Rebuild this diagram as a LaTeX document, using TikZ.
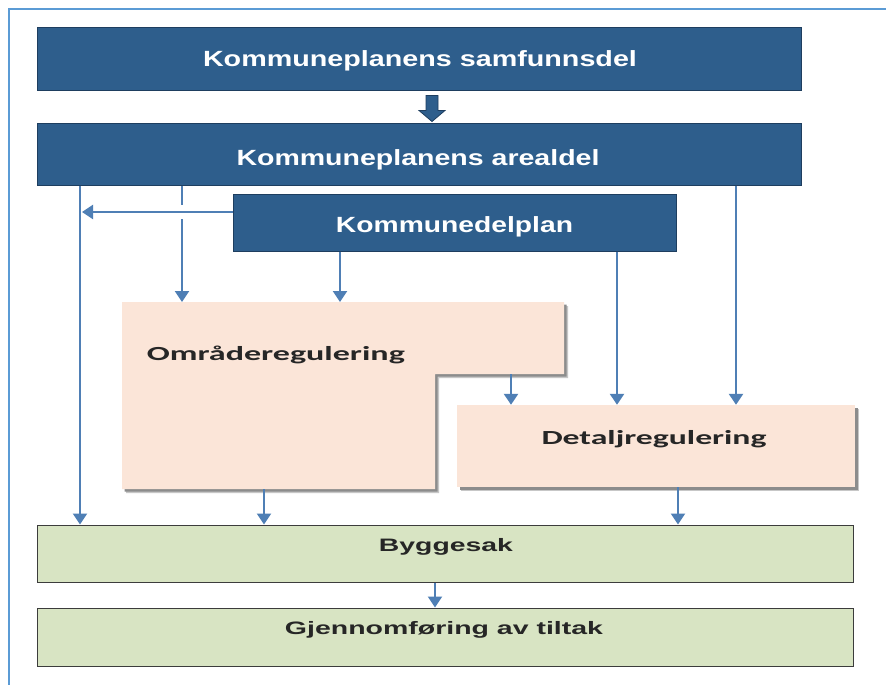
\documentclass[tikz,border=0pt]{standalone}
\usepackage{graphicx}
\usepackage{fontspec}
\setmainfont{Liberation Sans}
\newfontfamily\calib{Carlito}
\usetikzlibrary{arrows.meta,calc}
\definecolor{dblue}{RGB}{46,94,140}
\definecolor{dbord}{RGB}{30,62,95}
\definecolor{peach}{RGB}{251,229,216}
\definecolor{pgreen}{RGB}{216,228,195}
\definecolor{gbord}{RGB}{60,60,60}
\definecolor{arrc}{RGB}{79,127,181}
\definecolor{framec}{RGB}{91,155,213}
\begin{document}
\begin{tikzpicture}[x=1pt,y=-1pt,
  bluebox/.style={draw=dbord,line width=1pt,fill=dblue,inner sep=0pt},
  greenbox/.style={draw=gbord,line width=1pt,fill=pgreen,inner sep=0pt},
  peachbox/.style={fill=peach,inner sep=0pt},
  shadowa/.style={fill=black!22},
  shadowb/.style={fill=black!45},
  bluetxt/.style={text=white,font=\bfseries\fontsize{22}{26}\selectfont,inner sep=0pt,anchor=base},
  peachtxt/.style={text=black!85,font=\calib\bfseries\fontsize{20}{24}\selectfont,inner sep=0pt,anchor=base},
  greentxt/.style={text=black!85,font=\bfseries\fontsize{18}{22}\selectfont,inner sep=0pt,anchor=base},
  arr/.style={draw=arrc,line width=2.3pt,-{Triangle[width=14pt,length=11pt]}},
  ln/.style={draw=arrc,line width=2.3pt},
  bigarr/.style={draw=dbord,line width=0.8pt,fill=dblue}]
\useasboundingbox (0,0) rectangle (886,685);
\fill[white] (0,0) rectangle (886,685);
% frame
\draw[framec,line width=2pt] (9,685) -- (9,9) -- (886,9);

% blue boxes
\node[bluebox,minimum width=764pt,minimum height=62pt] (sam) at (419,59) {};
\node[bluebox,minimum width=764pt,minimum height=62pt] (are) at (419,154) {};
\node[bluebox,minimum width=443pt,minimum height=57pt] (kdp) at (454.5,222.5) {};
\node[bluetxt] (samt) at (420,66.7) {\resizebox{434pt}{\height}{Kommuneplanens samfunnsdel}};
\node[bluetxt] (aret) at (418,165) {\resizebox{363pt}{\height}{Kommuneplanens arealdel}};
\node[bluetxt] (kdpt) at (454.5,232) {\resizebox{237pt}{\height}{Kommunedelplan}};

% block arrow between top boxes
\coordinate (ba) at (432,0);
\path (sam.south -| ba) coordinate (bat) (are.north -| ba) coordinate (bab);
\draw[bigarr] ($(bat)+(-6,5)$) -- ($(bat)+(6,5)$) -- ($(bab)+(6,-12)$) -- ($(bab)+(13,-12)$)
  -- ($(bab)+(0,-1)$) -- ($(bab)+(-13,-12)$) -- ($(bab)+(-6,-12)$) -- cycle;

% peach L shape (Omraderegulering)
\coordinate (oTL) at (122,302);
\coordinate (oTR) at (564,302);
\coordinate (oStep) at (435,374);
\coordinate (oBot) at (122,489);
\begin{scope}[shift={(4,4)}]
  \fill[shadowa] (122,302) -| (564,374) -| (435,489) -| cycle;
\end{scope}
\begin{scope}[shift={(2.5,2.5)}]
  \fill[shadowb] (122,302) -| (564,374) -| (435,489) -| cycle;
\end{scope}
\fill[peach] (oTL) -| (oTR |- oStep) -| (oStep |- oBot) -| cycle;
\node[peachtxt,anchor=base west] (omrt) at (146.7,360) {\resizebox{258pt}{\height}{Områderegulering}};

% Detaljregulering
\begin{scope}[shift={(4,4)}]
  \fill[shadowa] (457,405) rectangle (855,487);
\end{scope}
\begin{scope}[shift={(2.5,2.5)}]
  \fill[shadowb] (457,405) rectangle (855,487);
\end{scope}
\node[peachbox,minimum width=398pt,minimum height=82pt] (det) at (656,446) {};
\node[peachtxt] (dett) at (654,444.3) {\resizebox{225pt}{\height}{Detaljregulering}};

% green boxes
\node[greenbox,minimum width=816pt,minimum height=57pt] (byg) at (445,553.5) {};
\node[greenbox,minimum width=816pt,minimum height=58pt] (gje) at (445,637) {};
\node[greentxt] (bygt) at (446,551) {\resizebox{134pt}{\height}{Byggesak}};
\node[greentxt] (gjet) at (444,634.3) {\resizebox{318pt}{\height}{Gjennomføring av tiltak}};

% x positions of connectors
\coordinate (x80) at (80,0);
\coordinate (x82) at (82,0);
\coordinate (x182) at (182,0);
\coordinate (x264) at (264,0);
\coordinate (x340) at (340,0);
\coordinate (x435) at (435,0);
\coordinate (x511) at (511,0);
\coordinate (x617) at (617,0);
\coordinate (x678) at (678,0);
\coordinate (x736) at (736,0);
\coordinate (hy) at (0,212);
\coordinate (gapA) at (0,205);
\coordinate (gapB) at (0,219);

% connectors
\draw[arr] (are.south -| x80) -- (byg.north -| x80);
\draw[arr] (kdp.west |- hy) -- (x82 |- hy);
\draw[ln] (are.south -| x182) -- (x182 |- gapA);
\draw[arr] (x182 |- gapB) -- (x182 |- oTL);
\draw[arr] (kdp.south -| x340) -- (x340 |- oTL);
\draw[arr] (x511 |- oStep) -- (det.north -| x511);
\draw[arr] (kdp.south -| x617) -- (det.north -| x617);
\draw[arr] (are.south -| x736) -- (det.north -| x736);
\draw[arr] (x264 |- oBot) -- (byg.north -| x264);
\draw[arr] (det.south -| x678) -- (byg.north -| x678);
\draw[arr] (byg.south -| x435) -- (gje.north -| x435);
\end{tikzpicture}
\end{document}
